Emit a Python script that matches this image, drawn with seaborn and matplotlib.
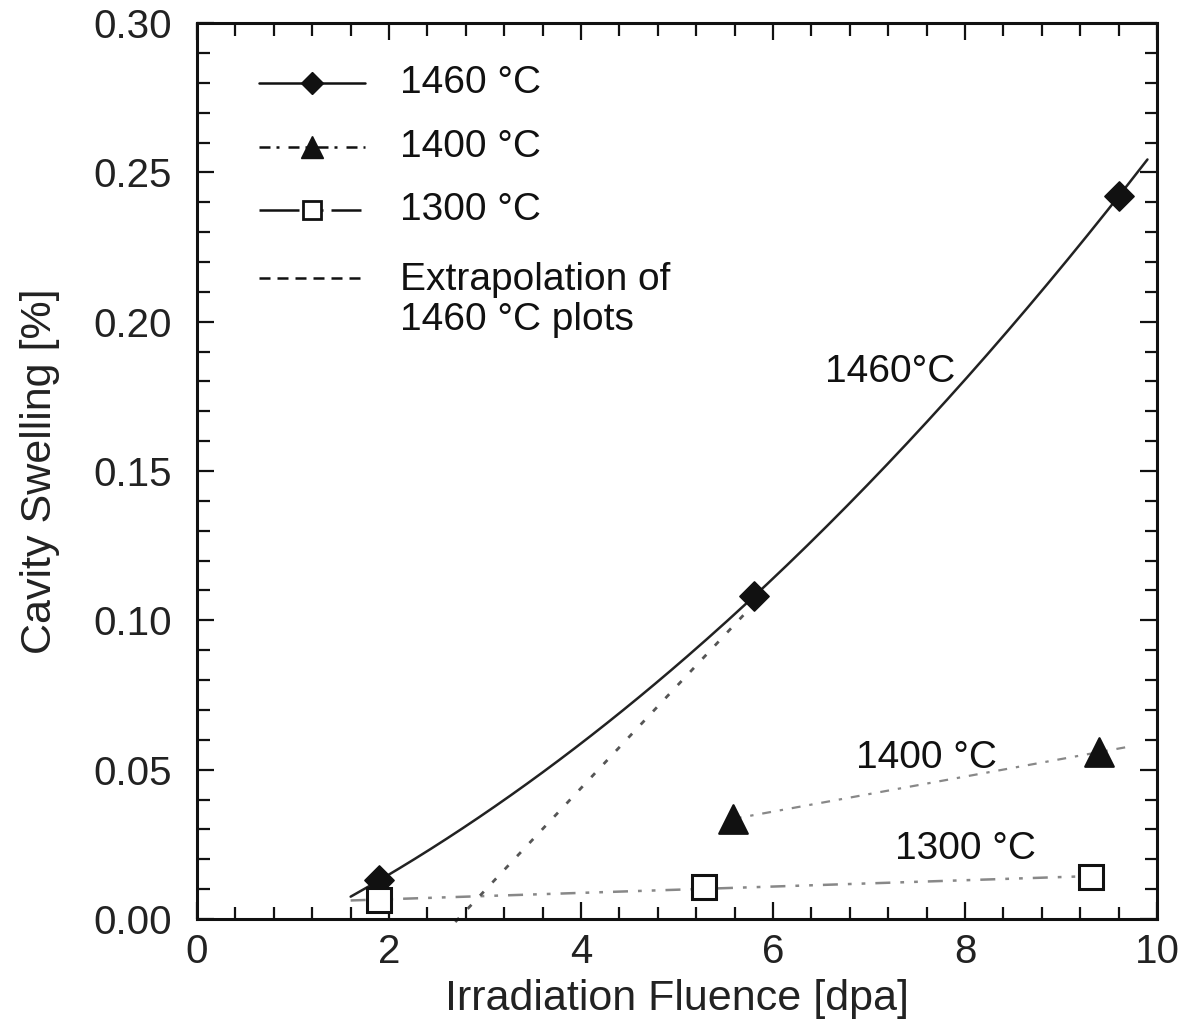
import numpy as np
import pandas as pd
import matplotlib
matplotlib.use("Agg")
import matplotlib.pyplot as plt
from matplotlib.lines import Line2D
from matplotlib.ticker import MultipleLocator
import seaborn as sns

# Measured cavity swelling vs. irradiation fluence
fluence_1460 = [1.9, 5.8, 9.6]
swelling_1460 = [0.013, 0.108, 0.242]

fluence_1400 = [5.58, 9.4]
swelling_1400 = [0.0335, 0.0559]

fluence_1300 = [1.9, 5.28, 9.31]
swelling_1300 = [0.0062, 0.0107, 0.0141]

# Linear extrapolation of the 1460 °C data back to zero swelling
extrap_fluence = [2.69, 5.74]
extrap_swelling = [-0.001, 0.1034]

# Ranges over which the trend lines are drawn
range_1460 = (1.6, 9.9)
range_1400 = (5.58, 9.7)
range_1300 = (1.6, 9.5)

x_ticks = [0, 2, 4, 6, 8, 10]
y_ticks = [0.00, 0.05, 0.10, 0.15, 0.20, 0.25, 0.30]

sns.set_theme(style="ticks")
plt.rcParams["font.family"] = ["Liberation Sans", "DejaVu Sans"]

fig = plt.figure(figsize=(11.82, 10.29), dpi=100)
ax = fig.add_axes([0.1667, 0.1069, 0.8122, 0.8707])

# Trend lines
c2 = np.polyfit(fluence_1460, swelling_1460, 2)
xs = np.linspace(*range_1460, 200)
fit_1460 = pd.DataFrame({"x": xs, "y": np.polyval(c2, xs)})
sns.lineplot(data=fit_1460, x="x", y="y", ax=ax, color="#222222", lw=1.8, sort=False)

c1 = np.polyfit(fluence_1400, swelling_1400, 1)
xs = np.linspace(*range_1400, 2)
sns.lineplot(x=xs, y=np.polyval(c1, xs), ax=ax, color="#888888", lw=1.6)
ax.lines[-1].set_dashes([4, 4, 1.5, 4])

c1 = np.polyfit(fluence_1300, swelling_1300, 1)
xs = np.linspace(*range_1300, 2)
sns.lineplot(x=xs, y=np.polyval(c1, xs), ax=ax, color="#888888", lw=1.8)
ax.lines[-1].set_dashes([6, 4, 1.5, 4, 1.5, 4])

ext_line = ax.plot(extrap_fluence, extrap_swelling, color="#555555", lw=2.0,
                   clip_on=False)[0]
ext_line.set_dashes([2.0, 4.5])

# Data points
sns.scatterplot(x=fluence_1460, y=swelling_1460, ax=ax, marker="D", s=220,
                color="#111111", edgecolor="#111111", zorder=5)
sns.scatterplot(x=fluence_1400, y=swelling_1400, ax=ax, marker="^", s=420,
                color="#111111", edgecolor="#111111", zorder=5)
ax.plot(fluence_1300, swelling_1300, ls="none", marker="s", ms=17, mfc="white",
        mec="#111111", mew=2.2, zorder=5)

# Curve labels
fs = 28
ax.text(7.22, 0.183, "1460°C", fontsize=fs, ha="center", va="center", color="#111111")
ax.text(7.6, 0.054, "1400 °C", fontsize=fs, ha="center", va="center", color="#111111")
ax.text(8.0, 0.0235, "1300 °C", fontsize=fs, ha="center", va="center", color="#111111")

# Legend drawn in axes fraction coordinates
tr = ax.transAxes
lx0, lx1, lm, tx = 0.0646, 0.175, 0.12, 0.2115
rows = [0.933, 0.862, 0.791, 0.715]
ax.add_line(Line2D([lx0, lx1], [rows[0]] * 2, transform=tr, color="#111111", lw=1.8))
ax.add_line(Line2D([lm], [rows[0]], transform=tr, marker="D", ms=11,
                   color="#111111", ls="none"))
l = Line2D([lx0, lx1], [rows[1]] * 2, transform=tr, color="#111111", lw=1.8)
l.set_dashes([4.4, 2.4, 1.2, 3.6])
ax.add_line(l)
ax.add_line(Line2D([lm], [rows[1]], transform=tr, marker="^", ms=16,
                   color="#111111", ls="none"))
l = Line2D([lx0, lx1], [rows[2]] * 2, transform=tr, color="#111111", lw=1.8)
l.set_dashes([16, 8, 1.6, 3.2, 12, 20])
ax.add_line(l)
ax.add_line(Line2D([lm], [rows[2]], transform=tr, marker="s", ms=13, mfc="white",
                   mec="#111111", mew=2, ls="none"))
l = Line2D([lx0, lx1], [rows[3]] * 2, transform=tr, color="#111111", lw=1.8)
l.set_dashes([4.4, 2.8])
ax.add_line(l)
for y, t in zip(rows[:3], ["1460 °C", "1400 °C", "1300 °C"]):
    ax.text(tx, y, t, transform=tr, fontsize=fs, va="center", color="#111111")
ax.text(tx, rows[3] + 0.018, "Extrapolation of\n1460 °C plots", transform=tr,
        fontsize=fs, va="top", color="#111111", linespacing=1.15)

# Axes styling
ax.set_xlim(0, 10)
ax.set_ylim(0, 0.30)
ax.set_xticks(x_ticks)
ax.set_yticks(y_ticks)
ax.set_xticklabels([str(v) for v in x_ticks])
ax.set_yticklabels([f"{v:.2f}" for v in y_ticks])
ax.xaxis.set_minor_locator(MultipleLocator(0.4))
ax.yaxis.set_minor_locator(MultipleLocator(0.01))
ax.tick_params(which="both", direction="in", top=True, right=True, width=1.6,
               colors="#111111", labelcolor="#222222")
ax.tick_params(which="major", length=12, labelsize=29)
ax.tick_params(axis="x", which="major", pad=10)
ax.tick_params(axis="y", which="major", pad=18)
ax.tick_params(which="minor", length=9)
for s in ax.spines.values():
    s.set_linewidth(2.2)
    s.set_color("#111111")
ax.set_xlabel("Irradiation Fluence [dpa]", fontsize=31, color="#222222", labelpad=6)
ax.set_ylabel("Cavity Swelling [%]", fontsize=31, color="#222222", labelpad=24)

fig.savefig("out.png", dpi=100)
